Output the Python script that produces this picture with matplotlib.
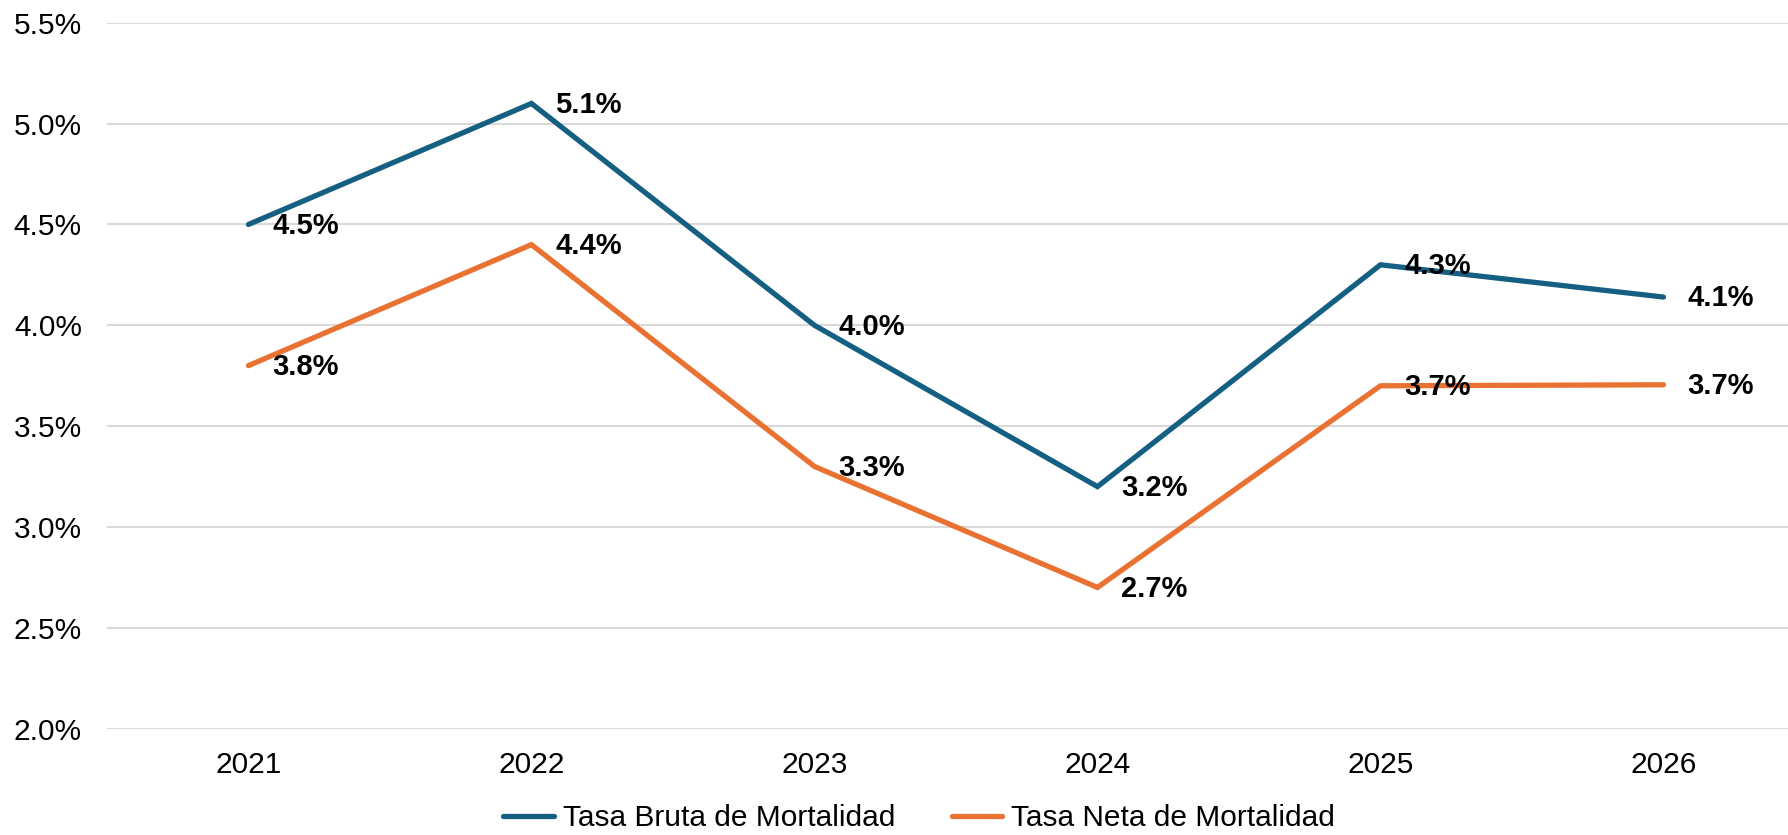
import matplotlib.pyplot as plt
from matplotlib.ticker import FuncFormatter

plt.rcParams['font.family'] = ['Liberation Sans', 'DejaVu Sans']

# datos
anios = ['2021', '2022', '2023', '2024', '2025', '2026']
tasa_bruta = [4.5, 5.1, 4.0, 3.2, 4.3, 4.14]
tasa_neta = [3.8, 4.4, 3.3, 2.7, 3.7, 3.705]
nombres = ['Tasa Bruta de Mortalidad', 'Tasa Neta de Mortalidad']
colores = ['#156082', '#E97132']

fig = plt.figure(figsize=(17.88, 8.35), dpi=100)
ax = fig.add_axes([0.0598, 0.1274, 0.9497, 0.8453])

x = list(range(len(anios)))
for serie, nombre, col in zip([tasa_bruta, tasa_neta], nombres, colores):
    ax.plot(x, serie, color=col, lw=3.8, label=nombre,
            solid_capstyle='round', solid_joinstyle='miter', zorder=3)
    for xi, v in zip(x, serie):
        ax.annotate(f'{v:.1f}%', (xi, v), xytext=(17, -1), textcoords='offset points',
                    ha='left', va='center', fontsize=21, fontweight='bold',
                    color='black', zorder=4)

ax.set_xlim(-0.5, 5.5)
ax.set_ylim(2.0, 5.5)
ax.set_yticks([2.0, 2.5, 3.0, 3.5, 4.0, 4.5, 5.0, 5.5])
ax.yaxis.set_major_formatter(FuncFormatter(lambda v, p: f'{v:.1f}%'))
ax.set_xticks(x)
ax.set_xticklabels(anios)
ax.grid(axis='y', color='#D9D9D9', lw=1.5)
ax.set_axisbelow(True)
for s in ax.spines.values():
    s.set_visible(False)
ax.tick_params(axis='both', length=0, labelsize=21.5, colors='black')
ax.tick_params(axis='y', pad=18)
ax.tick_params(axis='x', pad=16)

fig.legend(loc='center', bbox_to_anchor=(0.514, 0.02), ncol=2, frameon=False,
           fontsize=21.5, handlelength=1.7, handletextpad=0.3, columnspacing=1.9)

fig.savefig('out.png', dpi=100)
